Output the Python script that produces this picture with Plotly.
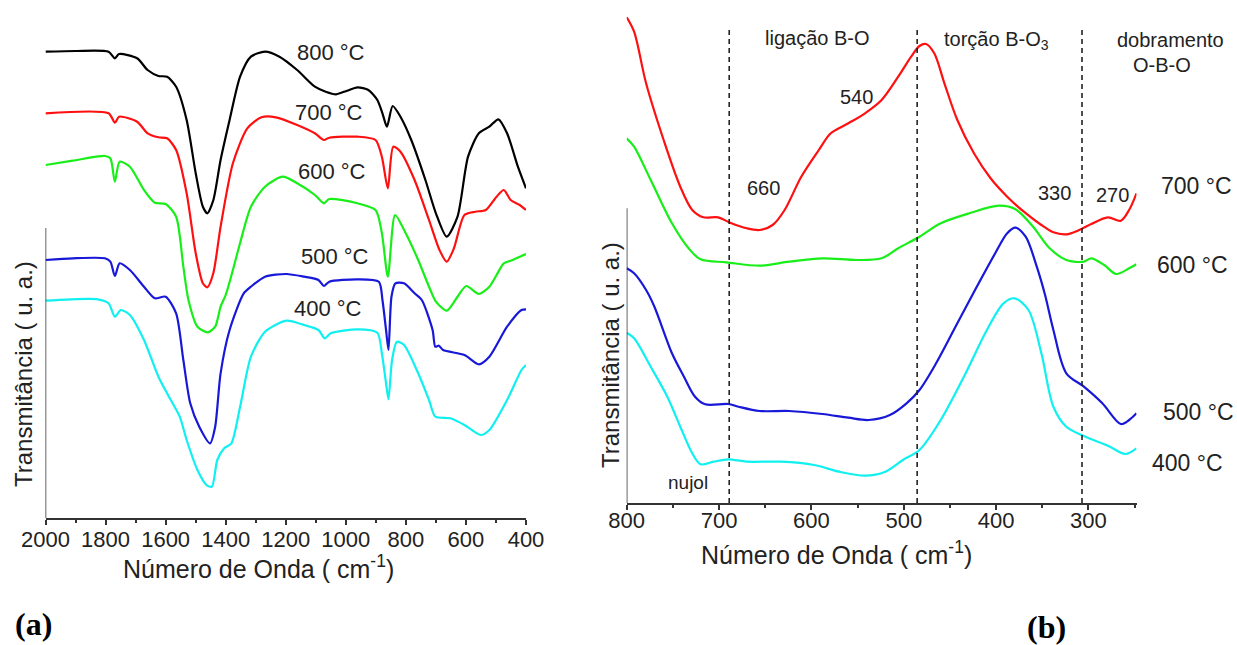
import plotly.graph_objects as go

W, H = 1237, 645

# ---------------- Panel (a): FTIR 2000-400 cm-1 ----------------
a800_wn = [2000,1900,1790,1769,1755,1695,1660,1624,1595,1565,1530,1500,1476,1461,1441,1417,1387,1352,1316,1269,
           1221,1162,1103,1067,1032,996,961,925,895,878,863,844,818,782,735,700,664,628,593,557,522,492,463,427,400]
a800_t = [46.63,46.7,46.63,45.97,46.4,45.97,44.8,44.2,44.13,43.13,39.8,34.5,31.13,30.47,31.8,35.8,39.8,44.13,46.13,46.63,
          46.13,44.8,43.13,42.63,42.37,42.73,43.07,42.8,41.8,40.47,39.13,41.2,40.13,37.8,33.8,30.47,28.13,30.13,36.13,38.47,
          39.13,39.87,38.47,35.13,32.97]

a700_wn = [2000,1790,1769,1755,1695,1660,1624,1595,1565,1530,1500,1476,1461,1441,1417,1376,1328,1281,1233,1162,
           1103,1073,1055,961,901,880,860,842,818,771,723,688,664,640,605,569,534,498,474,451,421,400]
a700_t = [40.47,40.47,39.53,40.13,39.63,38.47,38.07,37.97,36.8,32.47,26.5,23.47,23.07,24.5,29.13,35.47,38.97,40.07,40.07,39.3,
          38.47,37.8,38.03,38.13,37.8,36.13,32.97,37.13,36.63,33.8,29.8,26.8,25.63,26.97,30.3,30.63,30.8,32.13,32.8,31.8,
          31.3,30.8]

a600_wn = [2000,1909,1802,1784,1769,1753,1719,1672,1636,1600,1565,1541,1524,1494,1459,1435,1417,1400,1376,1352,
           1316,1269,1210,1162,1103,1073,1055,961,901,880,860,836,806,759,723,700,664,628,599,557,522,498,474,451,400]
a600_t = [35.3,35.73,36.2,35.97,33.63,35.63,35.13,32.8,31.53,31.4,30.13,25.13,21.8,19.13,18.57,19.13,21.13,22.3,24.8,27.5,
          31.13,33.13,34.13,33.47,32.3,31.47,31.9,31.47,30.8,28.5,24.13,30.3,28.8,25.8,23.13,21.63,20.73,22.13,23.2,22.4,
          23.13,24.3,25.47,25.73,26.4]

a500_wn = [2000,1909,1802,1784,1769,1753,1719,1672,1636,1600,1565,1541,1518,1488,1452,1435,1417,1387,1340,1316,
           1269,1198,1139,1091,1073,1055,961,890,878,866,858,848,835,806,771,747,711,702,690,676,605,557,522,463,415,400]
a500_t = [25.8,25.97,25.97,25.63,24.2,25.47,24.8,23.13,21.97,22.13,20.47,15.8,11.47,9.13,7.47,9.13,14.47,18.8,22.47,23.13,
          24.13,24.4,24.13,23.8,23.2,23.63,23.87,23.63,21.8,18.8,16.8,22.13,23.47,23.47,22.47,21.8,18.8,17.13,17.23,16.8,
          16.3,15.37,16.13,19.13,20.8,20.87]

a400_wn = [2000,1826,1790,1769,1749,1719,1672,1624,1589,1553,1530,1494,1464,1446,1428,1405,1381,1352,1316,1269,
           1198,1139,1091,1070,1050,961,895,880,866,858,846,830,806,759,723,702,652,605,551,522,463,415,400]
a400_t = [21.73,21.87,21.47,20.13,20.8,20.3,17.8,14.13,12.13,10.13,7.8,4.8,3.3,3.13,5.8,6.97,7.47,11.13,16.13,18.63,
          19.73,19.3,18.8,17.97,18.47,18.87,18.53,16.47,13.47,11.87,15.8,17.63,17.3,14.47,11.8,10.13,9.97,9.3,8.3,8.8,
          11.8,14.8,15.3]

# ---------------- Panel (b): far IR 800-250 cm-1 ----------------
b700_wn = [800,792,779,760,742,729,717,701,688,670,656,642,629,611,592,579,560,542,524,506,
           492,483,476,467,456,442,424,406,388,370,351,338,324,310,297,279,265,256,248]
b700_t = [48.57,47.13,41.97,36.3,31.63,29.3,28.57,28.57,28.03,27.47,27.3,27.8,29.3,32.63,35.3,36.97,37.97,38.97,40.3,42.63,
          44.63,45.7,45.9,44.97,41.97,38.3,34.97,32.47,30.63,29.13,27.8,27.07,26.87,27.3,27.9,28.57,28.23,29.3,30.97]

b600_wn = [800,792,774,751,733,720,692,656,624,588,551,524,506,483,460,429,397,379,360,342,324,305,297,283,270,256,248]
b600_t = [36.47,35.63,32.3,27.97,25.47,24.37,24.07,23.73,24.13,24.47,24.3,24.47,25.47,26.63,27.97,28.97,29.73,29.37,27.63,25.47,
          24.3,24.13,24.47,23.8,22.9,23.47,23.87]

b500_wn = [800,792,779,770,751,738,726,715,690,679,656,624,588,560,538,515,497,483,465,442,
           424,401,388,379,368,356,347,338,324,305,285,265,256,248]
b500_t = [23.47,22.97,21.3,19.63,14.97,12.63,10.63,9.87,9.9,9.63,9.2,9.2,8.9,8.53,8.3,8.8,9.97,11.3,13.97,17.97,
          21.1,24.97,26.97,27.53,26.63,23.63,20.8,17.3,12.97,11.63,9.97,7.9,8.3,8.97]

b400_wn = [800,792,774,756,742,729,720,706,690,670,633,597,570,542,520,501,483,460,433,410,
           392,380,365,351,338,324,305,279,260,248]
b400_t = [17.03,16.47,13.63,10.63,7.63,4.97,3.87,4.13,4.37,4.13,4.13,3.8,3.13,2.73,3.13,4.3,5.3,8.3,12.97,17.3,
          19.97,20.47,19.3,14.97,9.63,7.63,6.7,5.73,4.9,5.47]

band_limits = [689, 485.5, 307]          # dashed separators in (b)
a_ticks = [2000, 1800, 1600, 1400, 1200, 1000, 800, 600, 400]
b_ticks = [800, 700, 600, 500, 400, 300]

colors = {"800": "#000000", "700": "#ff1010", "600": "#18ee18", "500": "#1818d8", "400": "#10f0f0"}
FONT = "Liberation Sans, Arial, sans-serif"

fig = go.Figure()
for wn, t, key in [(a800_wn, a800_t, "800"), (a700_wn, a700_t, "700"), (a600_wn, a600_t, "600"),
                   (a500_wn, a500_t, "500"), (a400_wn, a400_t, "400")]:
    fig.add_trace(go.Scatter(x=wn, y=t, mode="lines", xaxis="x", yaxis="y",
                             line=dict(color=colors[key], width=2.2, shape="spline", smoothing=0.7),
                             showlegend=False, hoverinfo="skip"))
for wn, t, key in [(b700_wn, b700_t, "700"), (b600_wn, b600_t, "600"),
                   (b500_wn, b500_t, "500"), (b400_wn, b400_t, "400")]:
    fig.add_trace(go.Scatter(x=wn, y=t, mode="lines", xaxis="x2", yaxis="y2",
                             line=dict(color=colors[key], width=2.2, shape="spline", smoothing=0.9),
                             showlegend=False, hoverinfo="skip"))


def px(x):
    return x / W


def py(y):
    return 1 - y / H


axis_common = dict(showline=True, linecolor="#333333", linewidth=1.5, ticks="outside", tickcolor="#333333",
                   tickwidth=1.5, showgrid=False, zeroline=False, automargin=False,
                   tickfont=dict(family=FONT, size=22, color="#222222"))

fig.update_layout(
    width=W, height=H, margin=dict(l=0, r=0, t=0, b=0, pad=0, autoexpand=False),
    paper_bgcolor="white", plot_bgcolor="white",
    xaxis=dict(domain=[px(45.5), px(526)], range=[2000, 400], tickvals=a_ticks, ticklen=5,
               ticklabelstandoff=-4,
               minor=dict(tickvals=[1900, 1700, 1500, 1300, 1100, 900, 700, 500], ticks="outside", ticklen=3,
                          tickcolor="#333333", tickwidth=1.5),
               anchor="y", **axis_common),
    yaxis=dict(domain=[py(518), py(30)], range=[0, 48.8], visible=False, anchor="x", automargin=False),
    xaxis2=dict(domain=[px(626.7), px(1136.5)], range=[800, 248], tickvals=b_ticks, ticklen=5,
                ticklabelstandoff=-8,
                minor=dict(tickvals=[750, 650, 550, 450, 350, 250], ticks="outside", ticklen=3,
                           tickcolor="#333333", tickwidth=1.5),
                anchor="y2", **axis_common),
    yaxis2=dict(domain=[py(503), py(10)], range=[0, 49.3], visible=False, anchor="x2", automargin=False),
)

shapes = [
    dict(type="line", xref="x", yref="y", x0=2000, x1=2000, y0=0, y1=29,
         line=dict(color="#333333", width=1.5)),
    dict(type="line", xref="x2", yref="y2", x0=800, x1=800, y0=0, y1=29.47,
         line=dict(color="#333333", width=1.5)),
]
for xv in band_limits:
    shapes.append(dict(type="line", xref="x2", yref="y2", x0=xv, x1=xv, y0=0, y1=47.4,
                       line=dict(color="#222222", width=1.6, dash="5px,4px")))
fig.update_layout(shapes=shapes)

ann = []


def add(text, x, y, size, xanchor="center", yanchor="middle", angle=0, family=FONT, color="#222222"):
    ann.append(dict(text=text, x=px(x), y=py(y), xref="paper", yref="paper", showarrow=False,
                    xanchor=xanchor, yanchor=yanchor, textangle=angle,
                    font=dict(family=family, size=size, color=color)))


# panel (a) labels
for txt, x, y in [("800 °C", 331, 52), ("700 °C", 329, 113), ("600 °C", 332, 172),
                  ("500 °C", 335, 256), ("400 °C", 328, 308)]:
    add(txt, x, y, 22)
# panel (b) labels
for txt, x, y in [("700 °C", 1159, 186), ("600 °C", 1155, 265), ("500 °C", 1161, 412), ("400 °C", 1150, 463)]:
    add(txt, x, y, 23, xanchor="left")
add("ligação B-O", 817, 38, 20)
add("torção B-O<sub>3</sub>", 942, 40, 20, xanchor="left")
add("dobramento", 1170, 40, 20)
add("O-B-O", 1162, 65, 20)
add("540", 856, 97, 20)
add("660", 763, 188, 20)
add("330", 1054, 193, 20)
add("270", 1112, 195, 20)
add("nujol", 688, 482, 19)
# axis titles
add("Transmitância ( u. a.)", 23, 374, 24, angle=-90)
add("Transmitância ( u. a.)", 610, 355, 24, angle=-90)
add("Número de Onda ( cm<sup>-1</sup>)", 258, 585, 25, yanchor="bottom")
add("Número de Onda ( cm<sup>-1</sup>)", 836, 571, 25, yanchor="bottom")
# panel letters
add("<b>(a)</b>", 33, 624, 32, family="Liberation Serif, Times New Roman, serif", color="#000000")
add("<b>(b)</b>", 1046, 627, 32, family="Liberation Serif, Times New Roman, serif", color="#000000")

fig.update_layout(annotations=ann)
fig.write_html("out.html")
